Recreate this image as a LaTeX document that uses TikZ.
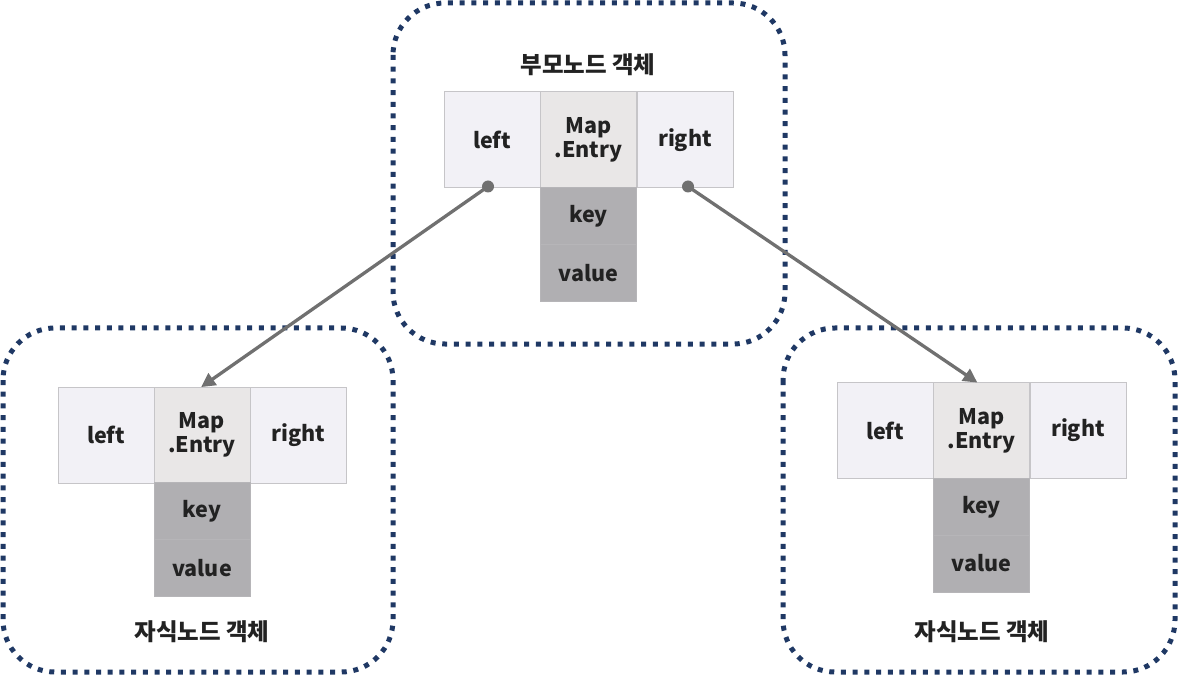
\documentclass[tikz,border=0pt]{standalone}
\usepackage{fontspec}
\setmainfont{Noto Sans CJK KR}
\usetikzlibrary{arrows.meta}
\definecolor{navy}{HTML}{1F3864}
\definecolor{sidecell}{HTML}{F2F1F6}
\definecolor{midcell}{HTML}{E9E7E7}
\definecolor{kvcell}{HTML}{B0AFB2}
\definecolor{cellline}{HTML}{C6C5C8}
\definecolor{arrowgray}{HTML}{707070}
\definecolor{txt}{HTML}{222222}
\tikzset{
  container/.style={draw=navy, line width=5pt, dash pattern=on 5pt off 6.7pt, rounded corners=52pt},
  cellbase/.style={rectangle, draw=cellline, line width=1pt, text=txt, inner sep=0pt, align=center,
    font=\fontsize{21.5}{24}\selectfont\bfseries},
  side/.style={cellbase, fill=sidecell, minimum width=96pt, minimum height=96pt},
  mid/.style={cellbase, fill=midcell, minimum width=96pt, minimum height=96pt},
  kv/.style={cellbase, fill=kvcell, draw=kvcell!92!white, minimum width=96pt, minimum height=57pt},
  title/.style={text=txt, font=\fontsize{23.5}{26}\selectfont\bfseries},
  link/.style={draw=arrowgray, line width=3.3pt, -{Triangle[length=14pt,width=14pt]}},
  dot/.style={circle, fill=arrowgray, inner sep=0pt, minimum size=12pt}
}
\begin{document}
\begin{tikzpicture}[x=1pt,y=-1pt]
\useasboundingbox (0,0) rectangle (1178,676);
% containers
\draw[container] (393,3) rectangle (785,344);
\draw[container] (3,328) rectangle (393,672);
\draw[container] (783,328) rectangle (1175,672);
% parent
\node[title] (ptitle) at (588,65) {부모노드 객체};
\node[side] (pl) at (492,140) {left};
\node[mid] (pm) at (588.5,140) {Map\\.Entry};
\node[side] (pr) at (685,140) {right};
\node[kv] (pk) at (588.5,216.5) {key};
\node[kv] (pv) at (588.5,273.5) {value};
% left child
\node[side] (ll) at (106,435) {left};
\node[mid] (lm) at (202,435) {Map\\.Entry};
\node[side] (lr) at (298.5,435) {right};
\node[kv] (lk) at (202,511) {key};
\node[kv] (lv) at (202,568) {value};
\node[title] (ltitle) at (202,632) {자식노드 객체};
% right child
\node[side] (rl) at (885,430.5) {left};
\node[mid] (rm) at (981.5,430.5) {Map\\.Entry};
\node[side] (rr) at (1078,430.5) {right};
\node[kv] (rk) at (981.5,507) {key};
\node[kv] (rv) at (981.5,563.5) {value};
\node[title] (rtitle) at (982,632) {자식노드 객체};
% links
\coordinate (ls) at ([xshift=-4pt,yshift=2pt]pl.south);
\coordinate (rs) at ([xshift=3pt,yshift=2pt]pr.south);
\draw[link, shorten >=-1pt] (ls) -- (lm.north);
\draw[link, shorten >=-1pt] (rs) -- ([xshift=-5pt]rm.north);
\node[dot] (ldot) at (ls) {};
\node[dot] (rdot) at (rs) {};
\end{tikzpicture}
\end{document}
